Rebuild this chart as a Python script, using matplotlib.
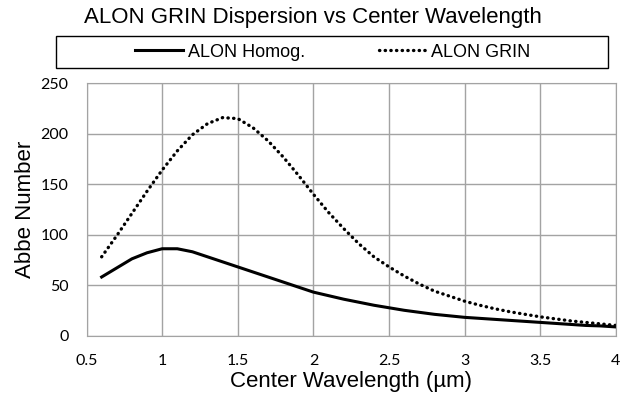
import matplotlib.pyplot as plt
from matplotlib.patches import Rectangle

# center wavelength (um)
wavelength = [0.6, 0.7, 0.8, 0.9, 1.0, 1.1, 1.2, 1.3, 1.4, 1.5,
              1.6, 1.7, 1.8, 1.9, 2.0, 2.1, 2.2, 2.3, 2.4, 2.5,
              2.6, 2.7, 2.8, 2.9, 3.0, 3.1, 3.2, 3.3, 3.4, 3.5,
              3.6, 3.7, 3.8, 3.9, 4.0]

abbe_homog = [58, 67, 76, 82, 86, 86, 83, 78, 73, 68,
              63, 58, 53, 48, 43, 39.5, 36, 33, 30, 27.5,
              25, 23, 21, 19.5, 18, 17, 16, 15, 14, 13,
              12, 11, 10, 9.5, 8.5]

abbe_grin = [78, 99, 121, 143, 164, 183, 199, 210, 216, 215,
             206, 193, 177, 159, 140, 122, 106, 91, 78, 68,
             59, 51, 44, 39, 34, 30, 26.5, 23.5, 21, 18.5,
             16.5, 14.5, 13, 11.5, 10]

x_ticks = [0.5, 1, 1.5, 2, 2.5, 3, 3.5, 4]
x_tick_labels = ['0.5', '1', '1.5', '2', '2.5', '3', '3.5', '4']
y_ticks = [0, 50, 100, 150, 200, 250]

plt.rcParams['font.family'] = ['Liberation Sans', 'DejaVu Sans']

fig = plt.figure(figsize=(6.26, 3.98), dpi=100)
ax = fig.add_axes([0.1382, 0.157, 0.8458, 0.6337])

ax.plot(wavelength, abbe_homog, '-', color='black', lw=2.2, label='ALON Homog.')
ax.plot(wavelength, abbe_grin, color='black', lw=2.4, linestyle=(0, (0.1, 1.6)),
        dash_capstyle='round', label='ALON GRIN')

ax.set_xlim(0.5, 4)
ax.set_ylim(0, 250)
ax.set_xticks(x_ticks)
ax.set_xticklabels(x_tick_labels)
ax.set_yticks(y_ticks)
ax.grid(True, color='#a3a3a3', lw=1)
ax.set_axisbelow(True)
for s in ax.spines.values():
    s.set_color('#a3a3a3')
ax.tick_params(length=0, pad=13, labelsize=11.5)
for lab in ax.get_xticklabels() + ax.get_yticklabels():
    lab.set_family('Lato')

ax.set_xlabel('Center Wavelength (µm)', fontsize=16, labelpad=2.5)
ax.set_ylabel('Abbe Number', fontsize=16, labelpad=3)

fig.text(0.5, 0.956, 'ALON GRIN Dispersion vs Center Wavelength',
         ha='center', va='center', fontsize=16)

# legend box spanning the top of the chart
fig.patches.append(Rectangle((0.0895, 0.829), 0.882, 0.0804,
                             transform=fig.transFigure, fill=False,
                             edgecolor='black', lw=1.0))
fig.legend(loc='center', bbox_to_anchor=(0.532, 0.869), ncol=2,
           frameon=False, fontsize=13, handlelength=2.65,
           handletextpad=0.25, columnspacing=4.1, borderaxespad=0)

fig.savefig('out.png', dpi=100)
